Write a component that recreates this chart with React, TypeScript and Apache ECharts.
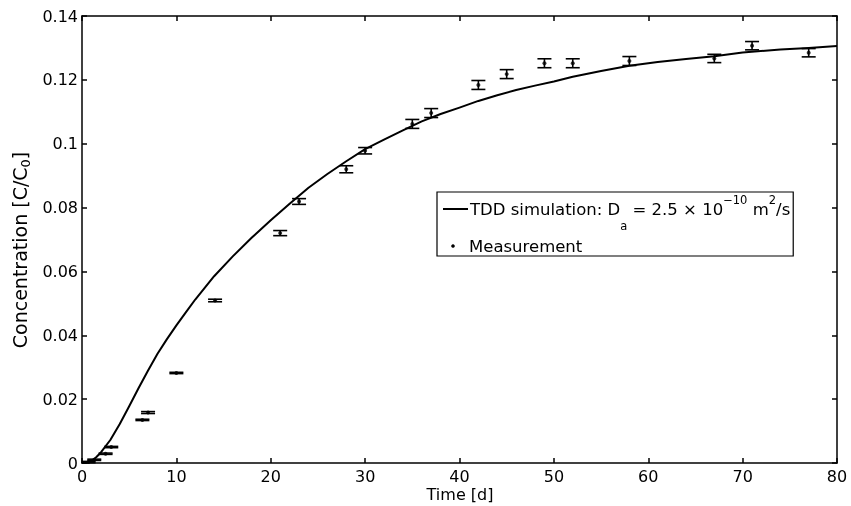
import React, { useEffect, useRef } from 'react';
import * as echarts from 'echarts';

// TDD simulation curve (time in days, concentration C/C0)
const simTime = [0, 0.5, 1, 1.5, 2, 3, 4, 5, 6, 7, 8, 9, 10, 11, 12, 14, 16, 18, 20, 22, 24, 26, 28, 30, 32, 34, 36, 38, 40, 42, 44, 46, 48, 50, 52, 55, 58, 61, 64, 67, 70, 74, 77, 80];
const simConc = [0, 0.0001, 0.0006, 0.0018, 0.0033, 0.0072, 0.0122, 0.0178, 0.0235, 0.029, 0.0342, 0.0388, 0.0431, 0.0472, 0.0512, 0.0585, 0.0648, 0.0706, 0.076, 0.0812, 0.0862, 0.0905, 0.0945, 0.0983, 0.1013, 0.1042, 0.107, 0.1093, 0.1113, 0.1134, 0.1152, 0.1168, 0.1182, 0.1195, 0.121, 0.1228, 0.1244, 0.1256, 0.1265, 0.1274, 0.1286, 0.1295, 0.13, 0.1306];

// Measurements with error (half-range)
const measTime = [0.7, 1.3, 2.5, 3.1, 6.4, 7.0, 10.0, 14.1, 21.0, 23.0, 28.0, 30.0, 35.0, 37.0, 42.0, 45.0, 49.0, 52.0, 58.0, 67.0, 71.0, 77.0];
const measConc = [0.0003, 0.001, 0.0029, 0.005, 0.0135, 0.0158, 0.0282, 0.0509, 0.072, 0.0819, 0.092, 0.0978, 0.1062, 0.1096, 0.1184, 0.1218, 0.1252, 0.1252, 0.1259, 0.1267, 0.1307, 0.1285];
const measErr = [0.0002, 0.0002, 0.0002, 0.0002, 0.0002, 0.0003, 0.0002, 0.0004, 0.0008, 0.0009, 0.0011, 0.001, 0.0014, 0.0014, 0.0014, 0.0014, 0.0014, 0.0014, 0.0014, 0.0013, 0.0013, 0.0013];

const xTicks = [0, 10, 20, 30, 40, 50, 60, 70, 80];
const yTickLabels = ['0', '0.02', '0.04', '0.06', '0.08', '0.1', '0.12', '0.14'];

const FONT = '"DejaVu Sans", "Liberation Sans", Arial, sans-serif';

export default function App() {
  const ref = useRef<HTMLDivElement>(null);
  useEffect(() => {
    if (!ref.current) return;
    const chart = echarts.init(ref.current, undefined, { renderer: 'svg' });

    const canvas = document.createElement('canvas');
    const ctx = canvas.getContext('2d')!;
    const mw = (t: string, s: number) => {
      ctx.font = `${s}px "DejaVu Sans"`;
      return ctx.measureText(t).width;
    };

    const base = 16.5, small = 11.5;
    const pieces = [
      { t: 'TDD simulation: D', s: base, y: 209 },
      { t: 'a', s: small, y: 226 },
      { t: ' = 2.5 × 10', s: base, y: 209 },
      { t: '−10', s: small, y: 200 },
      { t: ' m', s: base, y: 209 },
      { t: '2', s: small, y: 200 },
      { t: '/s', s: base, y: 209 },
    ];
    let cx = 470;
    const legendTexts: any[] = [];
    pieces.forEach((p) => {
      legendTexts.push({
        type: 'text',
        x: cx,
        y: p.y,
        z: 101,
        style: { text: p.t, fill: '#000', font: `${p.s}px ${FONT}`, align: 'left', verticalAlign: 'middle' },
      });
      cx += mw(p.t, p.s);
    });
    const boxLeft = 437;
    const boxRight = Math.max(cx + 3, 790);

    const axisLineStyle = { color: '#000', width: 1.5 };
    const yMin = 0, yMax = 0.14, yInt = 0.02;

    chart.setOption({
      animation: false,
      grid: { left: 82, right: 14, top: 16, bottom: 43, containLabel: false },
      xAxis: [
        {
          type: 'value', min: xTicks[0], max: xTicks[xTicks.length - 1], interval: 10, position: 'bottom',
          axisLine: { show: true, onZero: false, lineStyle: axisLineStyle },
          axisTick: { show: true, inside: true, length: 5, lineStyle: axisLineStyle },
          axisLabel: { color: '#000', fontSize: 16, fontFamily: FONT, margin: 5 },
          splitLine: { show: false },
        },
        {
          type: 'value', min: xTicks[0], max: xTicks[xTicks.length - 1], interval: 10, position: 'top',
          axisLine: { show: true, onZero: false, lineStyle: axisLineStyle },
          axisTick: { show: true, inside: true, length: 5, lineStyle: axisLineStyle },
          axisLabel: { show: false },
          splitLine: { show: false },
        },
      ],
      yAxis: [
        {
          type: 'value', min: yMin, max: yMax, interval: yInt, position: 'left',
          axisLine: { show: true, onZero: false, lineStyle: axisLineStyle },
          axisTick: { show: true, inside: true, length: 5, lineStyle: axisLineStyle },
          axisLabel: {
            color: '#000', fontSize: 16, fontFamily: FONT, margin: 4,
            formatter: (v: number) => yTickLabels[Math.round((v - yMin) / yInt)] ?? '',
          },
          splitLine: { show: false },
        },
        {
          type: 'value', min: yMin, max: yMax, interval: yInt, position: 'right',
          axisLine: { show: true, onZero: false, lineStyle: axisLineStyle },
          axisTick: { show: true, inside: true, length: 5, lineStyle: axisLineStyle },
          axisLabel: { show: false },
          splitLine: { show: false },
        },
      ],
      series: [
        {
          name: 'TDD simulation',
          type: 'line',
          xAxisIndex: 0, yAxisIndex: 0,
          data: simTime.map((t, i) => [t, simConc[i]]),
          showSymbol: false,
          smooth: false,
          lineStyle: { color: '#000', width: 2, join: 'round' },
          z: 3,
        },
        {
          name: 'Error',
          type: 'custom',
          xAxisIndex: 0, yAxisIndex: 0,
          clip: false,
          data: measTime.map((t, i) => [t, measConc[i], measErr[i]]),
          renderItem: (params: any, api: any) => {
            const x = api.value(0), y = api.value(1), e = api.value(2);
            const hi = api.coord([x, y + e]);
            const lo = api.coord([x, y - e]);
            const hw = 7;
            const style = { stroke: '#000', lineWidth: 1.6 };
            return {
              type: 'group',
              children: [
                { type: 'line', shape: { x1: hi[0], y1: hi[1], x2: lo[0], y2: lo[1] }, style },
                { type: 'line', shape: { x1: hi[0] - hw, y1: hi[1], x2: hi[0] + hw, y2: hi[1] }, style },
                { type: 'line', shape: { x1: lo[0] - hw, y1: lo[1], x2: lo[0] + hw, y2: lo[1] }, style },
              ],
            };
          },
          z: 4,
        },
        {
          name: 'Measurement',
          type: 'scatter',
          xAxisIndex: 0, yAxisIndex: 0,
          data: measTime.map((t, i) => [t, measConc[i]]),
          symbol: 'circle',
          symbolSize: 4,
          itemStyle: { color: '#000' },
          z: 5,
        },
      ],
      graphic: [
        {
          type: 'rect',
          z: 100,
          shape: { x: boxLeft, y: 192, width: boxRight - boxLeft, height: 64 },
          style: { fill: '#fff', stroke: '#000', lineWidth: 1.2 },
        },
        {
          type: 'line',
          z: 101,
          shape: { x1: 443, y1: 209, x2: 468, y2: 209 },
          style: { stroke: '#000', lineWidth: 2 },
        },
        ...legendTexts,
        {
          type: 'circle',
          z: 101,
          shape: { cx: 453, cy: 246, r: 1.8 },
          style: { fill: '#000' },
        },
        {
          type: 'text',
          z: 101,
          x: 469,
          y: 246,
          style: { text: 'Measurement', fill: '#000', font: `${base}px ${FONT}`, align: 'left', verticalAlign: 'middle' },
        },
        {
          type: 'text',
          x: 460,
          y: 494,
          style: { text: 'Time [d]', fill: '#000', font: `16px ${FONT}`, align: 'center', verticalAlign: 'middle' },
        },
        {
          type: 'text',
          x: 20,
          y: 250,
          rotation: Math.PI / 2,
          style: {
            text: 'Concentration [C/C{sub|0}]',
            fill: '#000',
            font: `19px ${FONT}`,
            align: 'center',
            verticalAlign: 'middle',
            lineHeight: 24,
            rich: {
              sub: { fontSize: 13, fontFamily: FONT, fill: '#000', verticalAlign: 'bottom', lineHeight: 13 },
            },
          },
        },
      ],
    });
    return () => chart.dispose();
  }, []);
  return <div ref={ref} style={{ position: 'fixed', left: 0, top: 0, width: 851, height: 506 }} />;
}
